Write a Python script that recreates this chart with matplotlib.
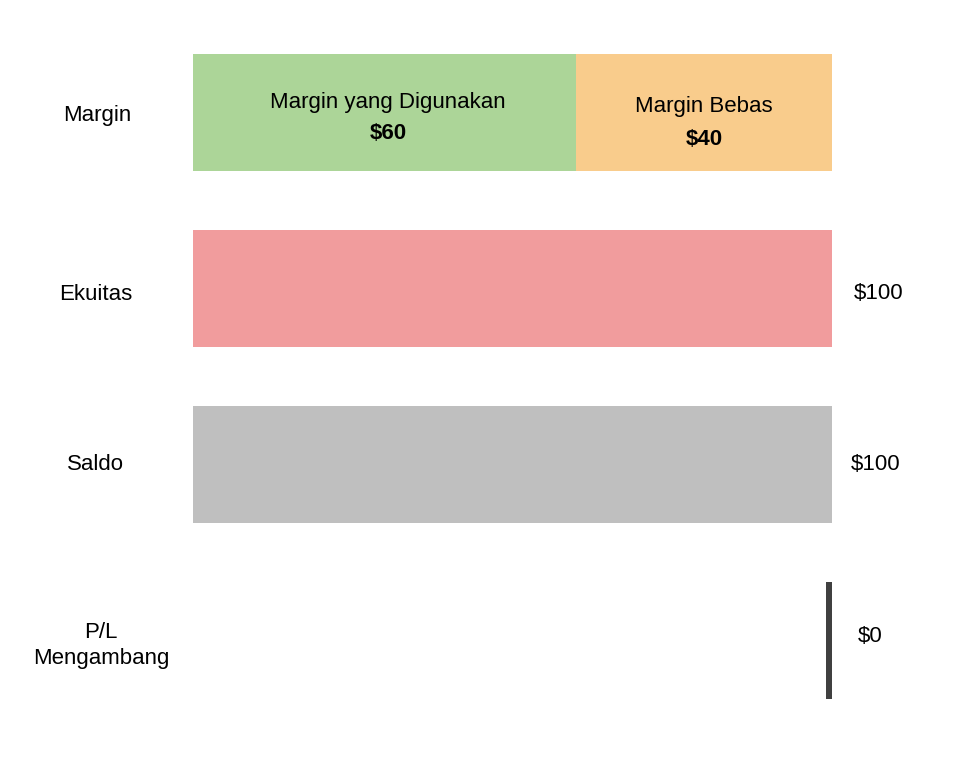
import matplotlib.pyplot as plt

# rows from top to bottom
rows = ["Margin", "Ekuitas", "Saldo", "P/L\nMengambang"]
margin_parts = ["Margin yang Digunakan", "Margin Bebas"]
margin_values = [60, 40]
equity = 100
balance = 100
floating_pl = 0

plt.rcParams['font.family'] = ['Liberation Sans', 'DejaVu Sans']

fig = plt.figure(figsize=(9.75, 7.58), dpi=100)
ax = fig.add_axes([0, 0, 1, 1])
ax.set_xlim(-30.2, 122.4)
ax.set_ylim(3.67, -0.64)
ax.axis("off")

h = 0.665
fs = 16
# margin row: used + free
ax.barh(0, margin_values[0], left=0, height=h, color="#acd598")
ax.barh(0, margin_values[1], left=margin_values[0], height=h, color="#f9cc8c")
ax.text(margin_values[0] / 2 + 0.5, -0.06, margin_parts[0], ha="center", va="center", fontsize=fs)
ax.text(margin_values[0] / 2 + 0.5, 0.12, f"${margin_values[0]}", ha="center", va="center",
        fontsize=fs, fontweight="bold")
ax.text(margin_values[0] + margin_values[1] / 2, -0.035, margin_parts[1], ha="center",
        va="center", fontsize=fs)
ax.text(margin_values[0] + margin_values[1] / 2, 0.155, f"${margin_values[1]}", ha="center",
        va="center", fontsize=fs, fontweight="bold")

# equity and balance
ax.barh(1, equity, height=h, color="#f19c9d")
ax.text(equity + 3.5, 1.03, f"${equity}", ha="left", va="center", fontsize=fs)
ax.barh(2, balance, height=h, color="#bfbfbf")
ax.text(balance + 3.0, 2.0, f"${balance}", ha="left", va="center", fontsize=fs)

# floating P/L: zero, shown as a thin line at the end
ax.barh(3, 0.9, left=99.1 + floating_pl, height=h, color="#404040")
ax.text(100 + 4.1, 2.98, f"${floating_pl}", ha="left", va="center", fontsize=fs)

# row labels
ax.text(-15.0, 0.015, rows[0], ha="center", va="center", fontsize=fs)
ax.text(-15.2, 1.035, rows[1], ha="center", va="center", fontsize=fs)
ax.text(-15.3, 2.0, rows[2], ha="center", va="center", fontsize=fs)
ax.text(-14.4, 3.03, rows[3], ha="center", va="center", fontsize=fs, linespacing=1.3)

fig.savefig("out.png", dpi=100)
